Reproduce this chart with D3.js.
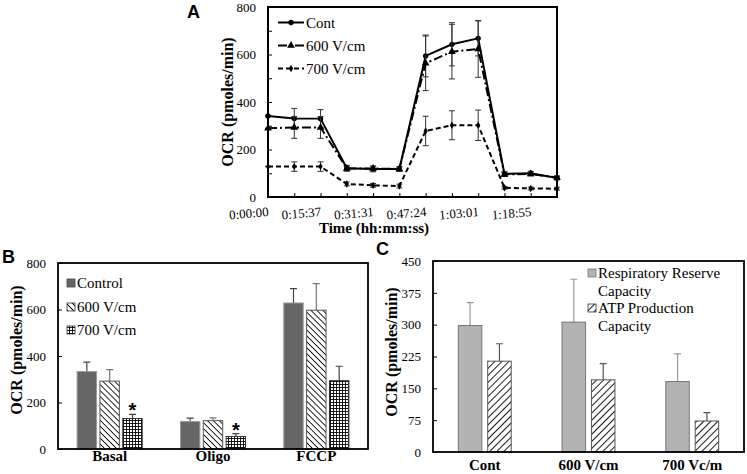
<!DOCTYPE html>
<html>
<head>
<meta charset="utf-8">
<script src="https://cdn.jsdelivr.net/npm/d3@7"></script>
<style>
  body { margin: 0; background: #fff; }
  svg { display: block; }
</style>
</head>
<body>
<svg id="chart" width="747" height="474"></svg>
<script>
// ---- panel A data (time course) ----
const timePoints = d3.range(12);
const timeLabels = ["0:00:00", "", "0:15:37", "", "0:31:31", "", "0:47:24", "", "1:03:01", "", "1:18:55", ""];
const contVals = [341, 331, 330, 121, 118, 118, 594, 643, 668, 97, 100, 80];
const contErr = [0, 42, 38, 12, 12, 10, 88, 91, 74, 10, 8, 8];
const v600Vals = [289, 293, 293, 120, 120, 118, 563, 612, 623, 95, 97, 82];
const v600Err = [0, 46, 46, 10, 10, 8, 115, 115, 119, 8, 8, 6];
const v700Vals = [128, 128, 128, 55, 49, 46, 278, 302, 302, 39, 36, 35];
const v700Err = [0, 20, 20, 8, 8, 8, 62, 61, 64, 6, 6, 6];

// ---- panel B data ----
const phasesB = ["Basal", "Oligo", "FCCP"];
const controlB = [333, 118, 628];
const controlBErr = [41, 15, 62];
const v600B = [292, 122, 597];
const v600BErr = [49, 12, 114];
const v700B = [131, 54, 294];
const v700BErr = [18, 12, 62];
const starsB = [true, true, false];

// ---- panel C data ----
const groupsC = ["Cont", "600 V/cm", "700 Vc/m"];
const rrcVals = [298, 306, 166];
const rrcErr = [54, 101, 65];
const atpVals = [214, 170, 73];
const atpErr = [41, 38, 20];

const svg = d3.select("#chart");
const serif = "'Liberation Serif', 'Times New Roman', serif";
const sans = "'Liberation Sans', Arial, sans-serif";

// hatch patterns
const defs = svg.append("defs");
function hatch(id, angle, gap, width) {
  const p = defs.append("pattern").attr("id", id)
    .attr("patternUnits", "userSpaceOnUse")
    .attr("width", gap).attr("height", gap)
    .attr("patternTransform", `rotate(${angle})`);
  p.append("rect").attr("width", gap).attr("height", gap).attr("fill", "#fff");
  p.append("line").attr("x1", 0).attr("y1", 0).attr("x2", 0).attr("y2", gap)
    .attr("stroke", "#000").attr("stroke-width", width);
}
hatch("back", -45, 4.2, 1.7);
hatch("fwd", 45, 5, 1.8);
const grid = defs.append("pattern").attr("id", "grid")
  .attr("patternUnits", "userSpaceOnUse").attr("width", 3).attr("height", 3);
grid.append("rect").attr("width", 3).attr("height", 3).attr("fill", "#fff");
grid.append("path").attr("d", "M0,0.5H3M0.5,0V3").attr("stroke", "#000").attr("stroke-width", 0.9);

function styleAxis(g) {
  g.select(".domain").remove();
  g.selectAll("text").style("font-family", serif).style("font-size", "13px").attr("fill", "#000");
  g.selectAll("line").attr("stroke", "#000");
}

// ================= Panel A =================
const xA = d3.scalePoint().domain(timePoints).range([268, 557]);
const yA = d3.scaleLinear().domain([0, 800]).range([197, 7]);

svg.append("g").attr("transform", "translate(268,0)")
  .call(d3.axisLeft(yA).tickValues(d3.range(0, 801, 100))
    .tickFormat(d => d % 200 === 0 ? d : "").tickSize(-4).tickPadding(12))
  .call(styleAxis);

svg.append("g").attr("transform", "translate(0,197)")
  .call(d3.axisBottom(xA).tickSize(-4).tickFormat(""))
  .call(styleAxis);

svg.append("g").selectAll("text").data(timePoints.filter(i => timeLabels[i]))
  .join("text")
  .attr("transform", i => `translate(${xA(i) + 1},216) rotate(-5)`)
  .attr("text-anchor", "end")
  .style("font-family", serif).style("font-size", "13px")
  .text(i => timeLabels[i]);

svg.append("rect").attr("x", 268).attr("y", 7).attr("width", 289).attr("height", 190)
  .attr("fill", "none").attr("stroke", "#000").attr("stroke-width", 2);

svg.append("text").attr("transform", "translate(233,102) rotate(-90)")
  .attr("text-anchor", "middle").style("font-family", serif)
  .style("font-size", "16px").style("font-weight", "bold").text("OCR (pmoles/min)");
svg.append("text").attr("x", 374).attr("y", 233).attr("text-anchor", "middle")
  .style("font-family", serif).style("font-size", "15px").style("font-weight", "bold")
  .text("Time (hh:mm:ss)");
svg.append("text").attr("x", 187).attr("y", 18).style("font-family", sans)
  .style("font-size", "18px").style("font-weight", "bold").text("A");

const seriesA = [
  { name: "Cont", vals: contVals, err: contErr, dash: null, sym: d3.symbolCircle, size: 22 },
  { name: "600 V/cm", vals: v600Vals, err: v600Err, dash: "9,3,2,3", sym: d3.symbolTriangle, size: 26 },
  { name: "700 V/cm", vals: v700Vals, err: v700Err, dash: "5,3", sym: d3.symbolDiamond, size: 16 }
];

const lineA = d3.line().x((d, i) => xA(i)).y(d => yA(d));
seriesA.forEach(s => {
  const g = svg.append("g");
  g.selectAll("path.err").data(s.vals).join("path").attr("class", "err")
    .attr("d", (d, i) => {
      const x = xA(i), y1 = yA(d + s.err[i]), y2 = yA(d - s.err[i]);
      return `M${x},${y1}V${y2}M${x - 3},${y1}H${x + 3}M${x - 3},${y2}H${x + 3}`;
    })
    .attr("stroke", "#333").attr("stroke-width", 1).attr("fill", "none");
  g.append("path").datum(s.vals).attr("d", lineA)
    .attr("fill", "none").attr("stroke", "#000").attr("stroke-width", 2)
    .attr("stroke-dasharray", s.dash);
  g.selectAll("path.mk").data(s.vals).join("path").attr("class", "mk")
    .attr("transform", (d, i) => `translate(${xA(i)},${yA(d)})`)
    .attr("d", d3.symbol(s.sym, s.size)).attr("fill", "#000");
});

// legend A
const legA = svg.append("g");
seriesA.forEach((s, i) => {
  const y = 22.5 + i * 23;
  legA.append("line").attr("x1", 278).attr("x2", 304).attr("y1", y).attr("y2", y)
    .attr("stroke", "#000").attr("stroke-width", 2).attr("stroke-dasharray", s.dash);
  legA.append("path").attr("transform", `translate(291,${y})`)
    .attr("d", d3.symbol(s.sym, s.size)).attr("fill", "#000");
  legA.append("text").attr("x", 306).attr("y", y + 5).style("font-family", serif)
    .style("font-size", "15px").text(s.name);
});

// ================= Bar panel helper =================
function barPanel(opt) {
  const g = svg.append("g");
  const x0 = d3.scaleBand().domain(opt.cats).range([opt.left, opt.right])
    .paddingInner(opt.padIn).paddingOuter(opt.padOut);
  const x1 = d3.scaleBand().domain(d3.range(opt.series.length))
    .range([0, x0.bandwidth()]).paddingInner(opt.innerPad);
  const y = d3.scaleLinear().domain([0, opt.max]).range([opt.bottom, opt.top]);

  g.append("g").attr("transform", `translate(${opt.left},0)`)
    .call(d3.axisLeft(y).tickValues(d3.range(0, opt.max + 1, opt.step)).tickSize(-4).tickPadding(12))
    .call(styleAxis);

  opt.series.forEach((s, si) => {
    const sg = g.append("g");
    sg.selectAll("path.err").data(s.vals).join("path").attr("class", "err")
      .attr("d", (d, i) => {
        const cx = x0(opt.cats[i]) + x1(si) + x1.bandwidth() / 2;
        const yt = y(d + s.err[i]);
        return `M${cx},${y(d)}V${yt}M${cx - 3.5},${yt}H${cx + 3.5}`;
      })
      .attr("stroke", s.errColor).attr("stroke-width", 1.2).attr("fill", "none");
    sg.selectAll("rect").data(s.vals).join("rect")
      .attr("x", (d, i) => x0(opt.cats[i]) + x1(si))
      .attr("y", d => y(d))
      .attr("width", x1.bandwidth())
      .attr("height", d => y(0) - y(d))
      .attr("fill", s.fill).attr("stroke", s.stroke).attr("stroke-width", 1);
    if (s.stars) {
      sg.selectAll("text.star").data(s.vals).join("text").attr("class", "star")
        .filter((d, i) => s.stars[i])
        .attr("x", (d, i) => x0(opt.cats[i]) + x1(si) + x1.bandwidth() / 2)
        .attr("y", (d, i) => y(d + s.err[i]) + 3)
        .attr("text-anchor", "middle").style("font-family", sans)
        .style("font-size", "20px").style("font-weight", "bold").text("*");
    }
  });

  g.selectAll("text.cat").data(opt.cats).join("text").attr("class", "cat")
    .attr("x", d => x0(d) + x0.bandwidth() / 2).attr("y", opt.catY)
    .attr("text-anchor", "middle").style("font-family", serif)
    .style("font-size", "15px").style("font-weight", "bold").text(d => d);

  g.append("rect").attr("x", opt.left).attr("y", opt.top)
    .attr("width", opt.right - opt.left).attr("height", opt.bottom - opt.top)
    .attr("fill", "none").attr("stroke", "#000").attr("stroke-width", 1.8);

  g.append("text").attr("transform", `translate(${opt.ylabX},${opt.ylabY}) rotate(-90)`)
    .attr("text-anchor", "middle").style("font-family", serif)
    .style("font-size", "16px").style("font-weight", "bold").text("OCR (pmoles/min)");
  g.append("text").attr("x", opt.letterX).attr("y", opt.letterY).style("font-family", sans)
    .style("font-size", "18px").style("font-weight", "bold").text(opt.letter);

  // legend
  opt.legend.forEach(l => {
    if (l.fill) {
      g.append("rect").attr("x", opt.legX).attr("y", l.y - 4).attr("width", 8).attr("height", 8)
        .attr("fill", l.fill).attr("stroke", l.stroke).attr("stroke-width", 0.8);
    }
    g.append("text").attr("x", opt.legX + 10).attr("y", l.y + 5).style("font-family", serif)
      .style("font-size", "15px").text(l.text);
  });
}

// ================= Panel B =================
barPanel({
  cats: phasesB, left: 58, right: 368, top: 263, bottom: 449, max: 800, step: 200,
  padIn: 0.37, padOut: 0.185, innerPad: 0.15, catY: 461,
  ylabX: 22, ylabY: 350, letter: "B", letterX: 2, letterY: 263,
  series: [
    { vals: controlB, err: controlBErr, fill: "#666", stroke: "#999", errColor: "#444" },
    { vals: v600B, err: v600BErr, fill: "url(#back)", stroke: "#555", errColor: "#777" },
    { vals: v700B, err: v700BErr, fill: "url(#grid)", stroke: "#333", errColor: "#444", stars: starsB }
  ],
  legX: 67,
  legend: [
    { y: 283, text: "Control", fill: "#666", stroke: "#444" },
    { y: 307, text: "600 V/cm", fill: "url(#back)", stroke: "#333" },
    { y: 330, text: "700 V/cm", fill: "url(#grid)", stroke: "#333" }
  ]
});

// ================= Panel C =================
barPanel({
  cats: groupsC, left: 433, right: 744, top: 261, bottom: 452, max: 450, step: 75,
  padIn: 0.49, padOut: 0.244, innerPad: 0.2, catY: 470,
  ylabX: 397, ylabY: 352, letter: "C", letterX: 376, letterY: 255,
  series: [
    { vals: rrcVals, err: rrcErr, fill: "#b3b3b3", stroke: "#777", errColor: "#999" },
    { vals: atpVals, err: atpErr, fill: "url(#fwd)", stroke: "#555", errColor: "#555" }
  ],
  legX: 588,
  legend: [
    { y: 273, text: "Respiratory Reserve", fill: "#b3b3b3", stroke: "#777" },
    { y: 291, text: "Capacity" },
    { y: 308, text: "ATP Production", fill: "url(#fwd)", stroke: "#333" },
    { y: 326, text: "Capacity" }
  ]
});
</script>
</body>
</html>
